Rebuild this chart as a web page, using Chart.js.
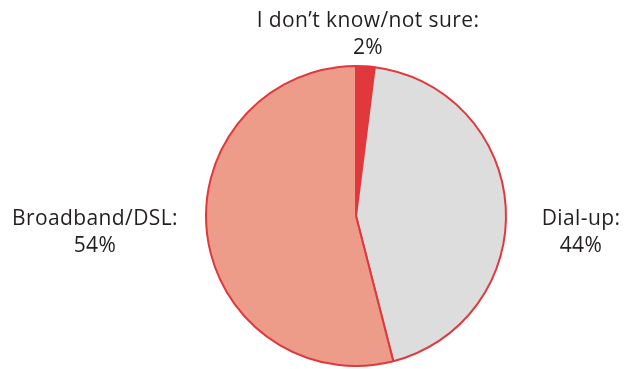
<!DOCTYPE html>
<html>
<head>
<meta charset="utf-8">
<script src="https://cdn.jsdelivr.net/npm/chart.js@4/dist/chart.umd.min.js"></script>
<style>
html,body{margin:0;padding:0;background:#fff;}
#wrap{width:625px;height:369px;position:relative;}
</style>
</head>
<body>
<div id="wrap"><canvas id="c" width="625" height="369"></canvas></div>
<script>
const categories = ["I don\u2019t know/not sure:", "Dial-up:", "Broadband/DSL:"];
const values = [2, 44, 54];
const sliceColors = ["#e1383d", "#dddddd", "#ed9c89"];
const labelAnchors = [[368, 27], [581, 225], [95, 225]];

const labelPlugin = {
  id: 'labels',
  afterDraw(chart) {
    const ctx = chart.ctx;
    ctx.save();
    ctx.font = '21px "Open Sans", sans-serif';
    try { ctx.letterSpacing = '0.4px'; } catch (e) {}
    ctx.fillStyle = '#231f20';
    ctx.textAlign = 'center';
    ctx.textBaseline = 'alphabetic';
    categories.forEach((c, i) => {
      const [x, y] = labelAnchors[i];
      ctx.fillText(c, x, y);
      ctx.fillText(values[i] + '%', x, y + 27);
    });
    ctx.restore();
  }
};

new Chart(document.getElementById('c'), {
  type: 'pie',
  data: {
    labels: categories,
    datasets: [{
      data: values,
      backgroundColor: sliceColors,
      borderColor: '#e1383d',
      borderWidth: 2
    }]
  },
  options: {
    responsive: false,
    animation: false,
    layout: { padding: { top: 65, bottom: 2, left: 205, right: 118 } },
    plugins: { legend: { display: false }, tooltip: { enabled: false } }
  },
  plugins: [labelPlugin]
});
</script>
</body>
</html>
